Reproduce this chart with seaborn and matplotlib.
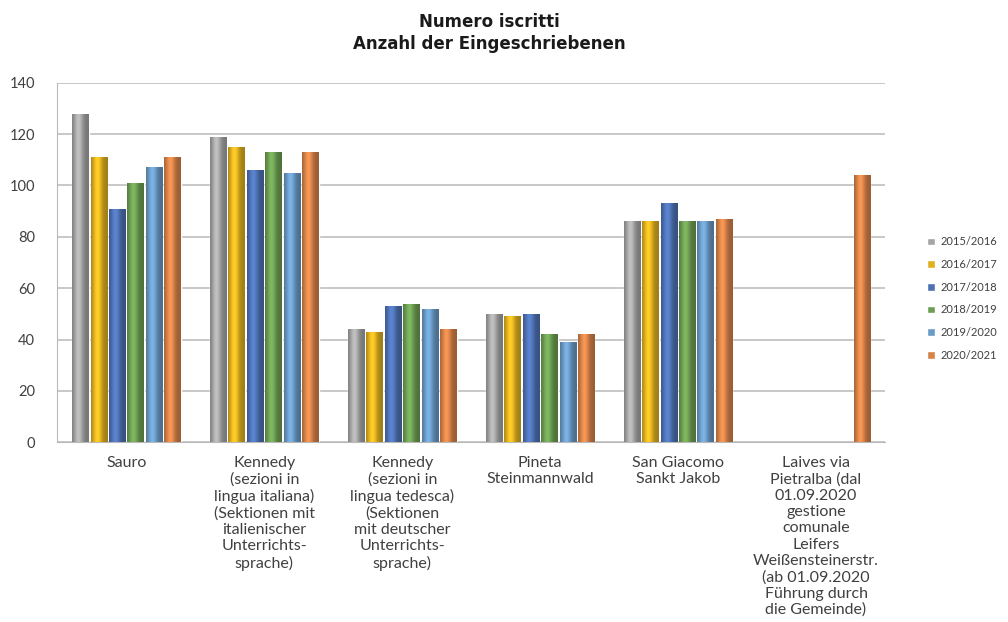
import numpy as np
import pandas as pd
import seaborn as sns
import matplotlib
matplotlib.use('Agg')
import matplotlib.pyplot as plt
from matplotlib.colors import to_rgb

schools = [
    "Sauro",
    "Kennedy\n(sezioni in\nlingua italiana)\n(Sektionen mit\nitalienischer\nUnterrichts-\nsprache)",
    "Kennedy\n(sezioni in\nlingua tedesca)\n(Sektionen\nmit deutscher\nUnterrichts-\nsprache)",
    "Pineta\nSteinmannwald",
    "San Giacomo\nSankt Jakob",
    "Laives via\nPietralba (dal\n01.09.2020\ngestione\ncomunale\nLeifers\nWeißensteinerstr.\n(ab 01.09.2020\nFührung durch\ndie Gemeinde)",
]
years = ["2015/2016", "2016/2017", "2017/2018", "2018/2019", "2019/2020", "2020/2021"]

y2015 = [128, 119, 44, 50, 86, np.nan]
y2016 = [111, 115, 43, 49, 86, np.nan]
y2017 = [91, 106, 53, 50, 93, np.nan]
y2018 = [101, 113, 54, 42, 86, np.nan]
y2019 = [107, 105, 52, 39, 86, np.nan]
y2020 = [111, 113, 44, 42, 87, 104]

colors = ["#a5a5a5", "#ffc000", "#3d6cc4", "#6aab46", "#5b9bd5", "#ed7d31"]

rows = []
for yr, vals in zip(years, [y2015, y2016, y2017, y2018, y2019, y2020]):
    for s, v in zip(schools, vals):
        rows.append({"school": s, "year": yr, "n": v})
df = pd.DataFrame(rows).dropna()

sns.set_style("white")
plt.rcParams['font.family'] = ['Lato', 'DejaVu Sans']

fig = plt.figure(figsize=(10.08, 6.22), dpi=100)
ax = fig.add_axes([0.057, 0.289, 0.821, 0.578])

sns.barplot(data=df, x="school", y="n", hue="year", order=schools, hue_order=years,
            palette=colors, width=0.8, gap=0.1, ax=ax, legend=True, zorder=3)

# cylinder-like shading
for patch in ax.patches:
    if patch.get_height() <= 0 or np.isnan(patch.get_height()):
        continue
    c = np.array(to_rgb(patch.get_facecolor()))
    t = np.linspace(0, 1, 64)
    shade = 0.72 + 0.45 * np.exp(-((t - 0.38) / 0.28) ** 2)
    grad = np.clip(c[None, :] * shade[:, None], 0, 1)[None, :, :]
    x0, y0 = patch.get_x(), patch.get_y()
    im = ax.imshow(grad, extent=[x0, x0 + patch.get_width(), y0, y0 + patch.get_height()],
                   aspect='auto', zorder=3.5, interpolation='bilinear')
    im.set_clip_path(patch)

ax.set_xlim(-0.5, 5.5)
ax.set_ylim(0, 140)
ax.set_yticks(range(0, 141, 20))
ax.yaxis.grid(True, color="#c4c4c4", lw=1.3, zorder=0)
ax.set_xlabel("")
ax.set_ylabel("")
for side in ["top", "right"]:
    ax.spines[side].set_visible(False)
ax.spines["left"].set_color("#b8b8b8")
ax.spines["bottom"].set_color("#b8b8b8")
ax.tick_params(axis="y", labelsize=10.5, colors="#404040", length=4, color="#b8b8b8", pad=12)
ax.tick_params(axis="x", labelsize=11.5, colors="#404040", length=0, pad=10)
for lab in ax.get_xticklabels():
    lab.set_linespacing(1.2)
    lab.set_verticalalignment("top")

leg = ax.legend(loc="center left", bbox_to_anchor=(0.91, 0.52), bbox_transform=fig.transFigure,
                frameon=False, fontsize=8, handlelength=0.7, handleheight=0.7,
                handletextpad=0.5, labelspacing=1.05)
for txt in leg.get_texts():
    txt.set_color("#404040")

fig.text(0.485, 0.947, "Numero iscritti\nAnzahl der Eingeschriebenen", ha="center", va="center",
         fontsize=12, fontweight="bold", family="DejaVu Sans", linespacing=1.35, color="#1a1a1a")

fig.savefig("out.png", dpi=100)
